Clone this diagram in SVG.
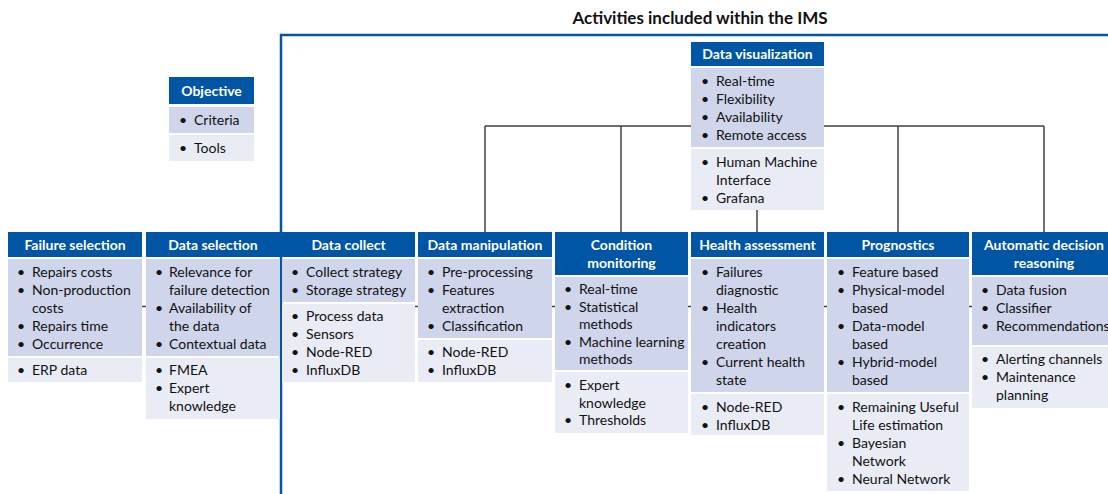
<svg xmlns="http://www.w3.org/2000/svg" width="1108" height="494" viewBox="0 0 1108 494">
<style>
text{font-family:Lato,"Liberation Sans",sans-serif;font-size:14px;fill:#111}
.hd{fill:#0055A4}
.tp{fill:#CFD5EA}
.lw{fill:#E9EBF5}
.ht{font-weight:bold;fill:#fff;text-anchor:middle}
.ttl{font-weight:bold;font-size:17px;text-anchor:middle}
.cn{stroke:#404040;stroke-width:1.5;fill:none}
</style>
<rect width="1108" height="494" fill="#fff"/>
<text class="ttl" x="700" y="24">Activities included within the IMS</text>
<path d="M281,494 V35 H1108" fill="none" stroke="#0055A4" stroke-width="2.5"/>
<g id="connectors">
<line class="cn" x1="75" y1="306.5" x2="1044" y2="306.5"/>
<line class="cn" x1="485" y1="126" x2="1044" y2="126"/>
<line class="cn" x1="485" y1="126" x2="485" y2="232"/>
<line class="cn" x1="621" y1="126" x2="621" y2="232"/>
<line class="cn" x1="757" y1="210" x2="757" y2="232"/>
<line class="cn" x1="898" y1="126" x2="898" y2="232"/>
<line class="cn" x1="1044" y1="126" x2="1044" y2="232"/>
</g>
<g id="objective">
<rect class="hd" x="169" y="77" width="85" height="27"/>
<rect class="tp" x="169" y="107" width="85" height="26"/>
<rect class="lw" x="169" y="135" width="85" height="26"/>
<text class="ht" x="211.5" y="95.5">Objective</text>
<text x="179" y="125">•</text><text x="194" y="125">Criteria</text>
<text x="179" y="153">•</text><text x="194" y="153">Tools</text>
</g>
<g id="data-visualization">
<rect class="hd" x="691" y="42" width="133" height="24"/>
<rect class="tp" x="691" y="68" width="133" height="79"/>
<rect class="lw" x="691" y="149" width="133" height="61"/>
<text class="ht" x="757.5" y="59">Data visualization</text>
<text x="701" y="86">•</text><text x="716" y="86">Real-time</text>
<text x="701" y="104">•</text><text x="716" y="104">Flexibility</text>
<text x="701" y="122">•</text><text x="716" y="122">Availability</text>
<text x="701" y="140">•</text><text x="716" y="140">Remote access</text>
<text x="701" y="167">•</text><text x="716" y="167">Human Machine</text>
<text x="716" y="185">Interface</text>
<text x="701" y="203">•</text><text x="716" y="203">Grafana</text>
</g>
<g id="failure-selection">
<rect class="hd" x="8" y="232" width="134" height="25"/>
<rect class="tp" x="8" y="259" width="134" height="97"/>
<rect class="lw" x="8" y="358" width="134" height="24"/>
<text class="ht" x="75" y="249.5">Failure selection</text>
<text x="17" y="277">•</text><text x="32" y="277">Repairs costs</text>
<text x="17" y="295">•</text><text x="32" y="295">Non-production</text>
<text x="32" y="313">costs</text>
<text x="17" y="331">•</text><text x="32" y="331">Repairs time</text>
<text x="17" y="349">•</text><text x="32" y="349">Occurrence</text>
<text x="17" y="375">•</text><text x="32" y="375">ERP data</text>
</g>
<g id="data-selection">
<rect class="hd" x="146" y="232" width="134" height="25"/>
<rect class="tp" x="146" y="259" width="134" height="97"/>
<rect class="lw" x="146" y="358" width="134" height="61"/>
<text class="ht" x="213" y="249.5">Data selection</text>
<text x="155" y="277">•</text><text x="169" y="277">Relevance for</text>
<text x="169" y="295">failure detection</text>
<text x="155" y="313">•</text><text x="169" y="313">Availability of</text>
<text x="169" y="331">the data</text>
<text x="155" y="349">•</text><text x="169" y="349">Contextual data</text>
<text x="155" y="375">•</text><text x="169" y="375">FMEA</text>
<text x="155" y="393">•</text><text x="169" y="393">Expert</text>
<text x="169" y="411">knowledge</text>
</g>
<g id="data-collect">
<rect class="hd" x="282" y="232" width="133" height="25"/>
<rect class="tp" x="282" y="259" width="133" height="43"/>
<rect class="lw" x="282" y="304" width="133" height="78"/>
<text class="ht" x="348.5" y="249.5">Data collect</text>
<text x="291" y="277">•</text><text x="306" y="277">Collect strategy</text>
<text x="291" y="295">•</text><text x="306" y="295">Storage strategy</text>
<text x="291" y="321">•</text><text x="306" y="321">Process data</text>
<text x="291" y="339">•</text><text x="306" y="339">Sensors</text>
<text x="291" y="357">•</text><text x="306" y="357">Node-RED</text>
<text x="291" y="375">•</text><text x="306" y="375">InfluxDB</text>
</g>
<g id="data-manipulation">
<rect class="hd" x="418" y="232" width="134" height="25"/>
<rect class="tp" x="418" y="259" width="134" height="79"/>
<rect class="lw" x="418" y="340" width="134" height="42"/>
<text class="ht" x="485" y="249.5">Data manipulation</text>
<text x="427" y="277">•</text><text x="442" y="277">Pre-processing</text>
<text x="427" y="295">•</text><text x="442" y="295">Features</text>
<text x="442" y="313">extraction</text>
<text x="427" y="331">•</text><text x="442" y="331">Classification</text>
<text x="427" y="357">•</text><text x="442" y="357">Node-RED</text>
<text x="427" y="375">•</text><text x="442" y="375">InfluxDB</text>
</g>
<g id="condition-monitoring">
<rect class="hd" x="555" y="232" width="133" height="43"/>
<rect class="tp" x="555" y="277" width="133" height="93"/>
<rect class="lw" x="555" y="372" width="133" height="61"/>
<text class="ht" x="621.5" y="250">Condition</text>
<text class="ht" x="621.5" y="268">monitoring</text>
<text x="564" y="294">•</text><text x="579" y="294">Real-time</text>
<text x="564" y="311.5">•</text><text x="579" y="311.5">Statistical</text>
<text x="579" y="329">methods</text>
<text x="564" y="346.5">•</text><text x="579" y="346.5">Machine learning</text>
<text x="579" y="364">methods</text>
<text x="564" y="390">•</text><text x="579" y="390">Expert</text>
<text x="579" y="408">knowledge</text>
<text x="564" y="425">•</text><text x="579" y="425">Thresholds</text>
</g>
<g id="health-assessment">
<rect class="hd" x="691" y="232" width="133" height="25"/>
<rect class="tp" x="691" y="259" width="133" height="133"/>
<rect class="lw" x="691" y="394" width="133" height="41"/>
<text class="ht" x="757.5" y="249.5">Health assessment</text>
<text x="701" y="277">•</text><text x="716" y="277">Failures</text>
<text x="716" y="295">diagnostic</text>
<text x="701" y="313">•</text><text x="716" y="313">Health</text>
<text x="716" y="331">indicators</text>
<text x="716" y="349">creation</text>
<text x="701" y="367">•</text><text x="716" y="367">Current health</text>
<text x="716" y="385">state</text>
<text x="701" y="412">•</text><text x="716" y="412">Node-RED</text>
<text x="701" y="430">•</text><text x="716" y="430">InfluxDB</text>
</g>
<g id="prognostics">
<rect class="hd" x="827" y="232" width="142" height="25"/>
<rect class="tp" x="827" y="259" width="142" height="133"/>
<rect class="lw" x="827" y="394" width="142" height="97"/>
<text class="ht" x="898" y="249.5">Prognostics</text>
<text x="837" y="277">•</text><text x="852" y="277">Feature based</text>
<text x="837" y="295">•</text><text x="852" y="295">Physical-model</text>
<text x="852" y="313">based</text>
<text x="837" y="331">•</text><text x="852" y="331">Data-model</text>
<text x="852" y="349">based</text>
<text x="837" y="367">•</text><text x="852" y="367">Hybrid-model</text>
<text x="852" y="385">based</text>
<text x="837" y="412">•</text><text x="852" y="412">Remaining Useful</text>
<text x="852" y="430">Life estimation</text>
<text x="837" y="448">•</text><text x="852" y="448">Bayesian</text>
<text x="852" y="466">Network</text>
<text x="837" y="484">•</text><text x="852" y="484">Neural Network</text>
</g>
<g id="automatic-decision-reasoning">
<rect class="hd" x="972" y="232" width="144" height="43"/>
<rect class="tp" x="972" y="277" width="144" height="68"/>
<rect class="lw" x="972" y="347" width="144" height="61"/>
<text class="ht" x="1044" y="250">Automatic decision</text>
<text class="ht" x="1044" y="268">reasoning</text>
<text x="981" y="295">•</text><text x="996" y="295">Data fusion</text>
<text x="981" y="313">•</text><text x="996" y="313">Classifier</text>
<text x="981" y="331">•</text><text x="996" y="331">Recommendations</text>
<text x="981" y="364">•</text><text x="996" y="364">Alerting channels</text>
<text x="981" y="382">•</text><text x="996" y="382">Maintenance</text>
<text x="996" y="400">planning</text>
</g>
</svg>
